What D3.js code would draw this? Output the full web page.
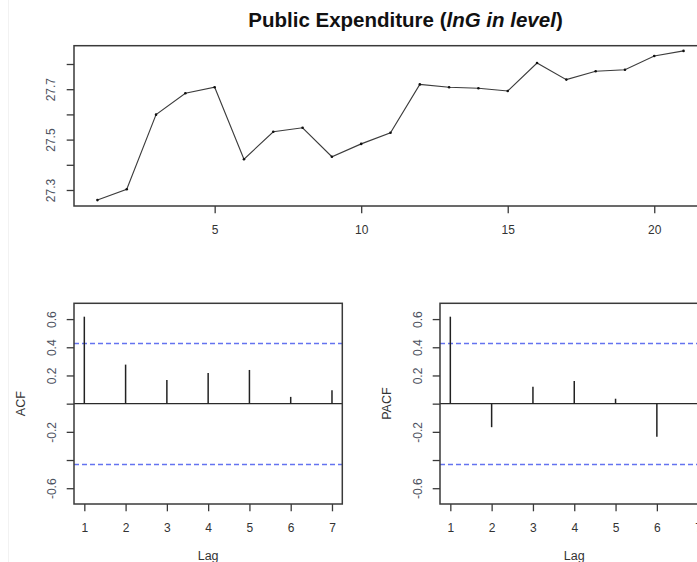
<!DOCTYPE html>
<html>
<head>
<meta charset="utf-8">
<script src="https://cdn.jsdelivr.net/npm/d3@7/dist/d3.min.js"></script>
<style>
  html, body { margin: 0; padding: 0; background: #fff; }
  svg { display: block; font-family: "Liberation Sans", Arial, Helvetica, sans-serif; }
</style>
</head>
<body>
<svg id="chart" width="697" height="562"></svg>
<script>
// ---------------- data ----------------
const obs = [1,2,3,4,5,6,7,8,9,10,11,12,13,14,15,16,17,18,19,20,21];
const lnG = [27.260,27.303,27.599,27.684,27.708,27.422,27.531,27.547,27.432,27.483,27.527,
             27.719,27.708,27.704,27.693,27.804,27.738,27.771,27.777,27.832,27.852];
const lags = [1,2,3,4,5,6,7];
const acfVals  = [0.617,0.277,0.168,0.218,0.239,0.048,0.095];
const pacfVals = [0.617,-0.167,0.120,0.161,0.035,-0.234,-0.020];
const ciBound = 0.428;

const topXTicks = [5,10,15,20];
const topYTicks = [27.3,27.4,27.5,27.6,27.7,27.8];
const topYLabels = ["27.3","","27.5","","27.7",""];
const corYTicks = [-0.6,-0.4,-0.2,0,0.2,0.4,0.6];
const corYLabels = ["-0.6","","-0.2","","0.2","0.4","0.6"];

const titleMain = "Public Expenditure (";
const titleItalic = "lnG in level";
const titleEnd = ")";

// ---------------- drawing ----------------
const svg = d3.select("#chart");
const BOX = "#3a3a3a", XLAB = "#333", YLAB = "#4d5260";
const TICK = 7.3;

svg.append("line").attr("x1", 8.5).attr("x2", 8.5).attr("y1", 0).attr("y2", 562)
   .attr("stroke", "#f2f2f2").attr("stroke-width", 1);

// title
const t = svg.append("text").attr("x", 248.3).attr("y", 27.3)
  .attr("font-size", 20.5).attr("font-weight", "bold").attr("fill", "#111");
t.append("tspan").text(titleMain);
t.append("tspan").attr("font-style", "italic").text(titleItalic);
t.append("tspan").text(titleEnd);

function styleAxis(g, color) {
  g.select(".domain").remove();
  g.selectAll(".tick line").attr("stroke", BOX).attr("stroke-width", 1.3);
  g.selectAll(".tick text").attr("fill", color).attr("font-size", 12);
}

function yAxis(g, y, ticks, labels, left, off) {
  const ax = d3.axisLeft(y).tickValues(ticks).tickSize(TICK)
    .tickFormat((d, i) => labels[i]);
  const ag = g.append("g").attr("transform", `translate(${left},0)`).call(ax);
  styleAxis(ag, YLAB);
  ag.selectAll(".tick text")
    .attr("x", null).attr("dy", "0.35em").attr("text-anchor", "middle")
    .attr("transform", `translate(${-off},0) rotate(-90)`);
}

function xAxis(g, x, ticks, bottom, fmt) {
  const ax = d3.axisBottom(x).tickValues(ticks).tickSize(TICK).tickFormat(fmt);
  const ag = g.append("g").attr("transform", `translate(0,${bottom})`).call(ax);
  styleAxis(ag, XLAB);
  ag.selectAll(".tick text").attr("y", 23.3).attr("dy", "0.35em");
}

function box(g, x0, y0, x1, y1) {
  g.append("rect").attr("x", x0).attr("y", y0).attr("width", x1 - x0).attr("height", y1 - y0)
    .attr("fill", "none").attr("stroke", BOX).attr("stroke-width", 1.5);
}

// ---- top series panel ----
{
  const L = 74, R = 707, T = 45.7, B = 206;
  const x = d3.scaleLinear().domain([0.2, 21.8]).range([L, R]);
  const y = d3.scaleLinear().domain([27.2365, 27.8726]).range([B, T]);
  const g = svg.append("g");
  const line = d3.line().x((d, i) => x(obs[i])).y(d => y(d));
  g.append("path").datum(lnG).attr("d", line).attr("fill", "none")
    .attr("stroke", "#3c3c3c").attr("stroke-width", 1.1);
  g.selectAll("circle.pt").data(lnG).join("circle").attr("class", "pt")
    .attr("cx", (d, i) => x(obs[i])).attr("cy", d => y(d)).attr("r", 1.3).attr("fill", "#111");
  yAxis(g, y, topYTicks, topYLabels, L, 23.5);
  xAxis(g, x, topXTicks, B, d => String(d));
  box(g, L, T, R, B);
}

// ---- correlogram panels ----
function corPanel(L, R, vals, label, labelX) {
  const T = 303.3, B = 504;
  const x = d3.scaleLinear().domain([0.75, 7.25]).range([L, R]);
  const y = d3.scaleLinear().domain([-0.712, 0.712]).range([B, T]);
  const g = svg.append("g");
  // confidence bounds (snapped to the pixel grid so both render alike)
  [ciBound, -ciBound].forEach(c => {
    const yy = Math.round(y(c)) + 0.5;
    g.append("line").attr("x1", L).attr("x2", R).attr("y1", yy).attr("y2", yy)
      .attr("stroke", "#6473f0").attr("stroke-width", 1.5).attr("stroke-dasharray", "5,3");
  });
  // zero line
  g.append("line").attr("x1", L).attr("x2", R).attr("y1", y(0)).attr("y2", y(0))
    .attr("stroke", "#2a2a2a").attr("stroke-width", 1.4);
  // spikes
  g.selectAll("line.spike").data(vals).join("line").attr("class", "spike")
    .attr("x1", (d, i) => x(lags[i])).attr("x2", (d, i) => x(lags[i]))
    .attr("y1", y(0)).attr("y2", d => y(d))
    .attr("stroke", "#222").attr("stroke-width", 1.5);
  yAxis(g, y, corYTicks, corYLabels, L, 22.5);
  xAxis(g, x, lags, B, d => String(d));
  box(g, L, T, R, B);
  // axis titles
  g.append("text").attr("x", (L + R) / 2).attr("y", 559.5).attr("text-anchor", "middle")
    .attr("font-size", 12.5).attr("fill", XLAB).text("Lag");
  g.append("text").attr("transform", `translate(${labelX},${(T + B) / 2}) rotate(-90)`)
    .attr("text-anchor", "middle").attr("font-size", 12.5).attr("fill", XLAB).text(label);
}

corPanel(74, 342.3, acfVals, "ACF", 25);
corPanel(440, 708.5, pacfVals, "PACF", 390.7);
</script>
</body>
</html>
